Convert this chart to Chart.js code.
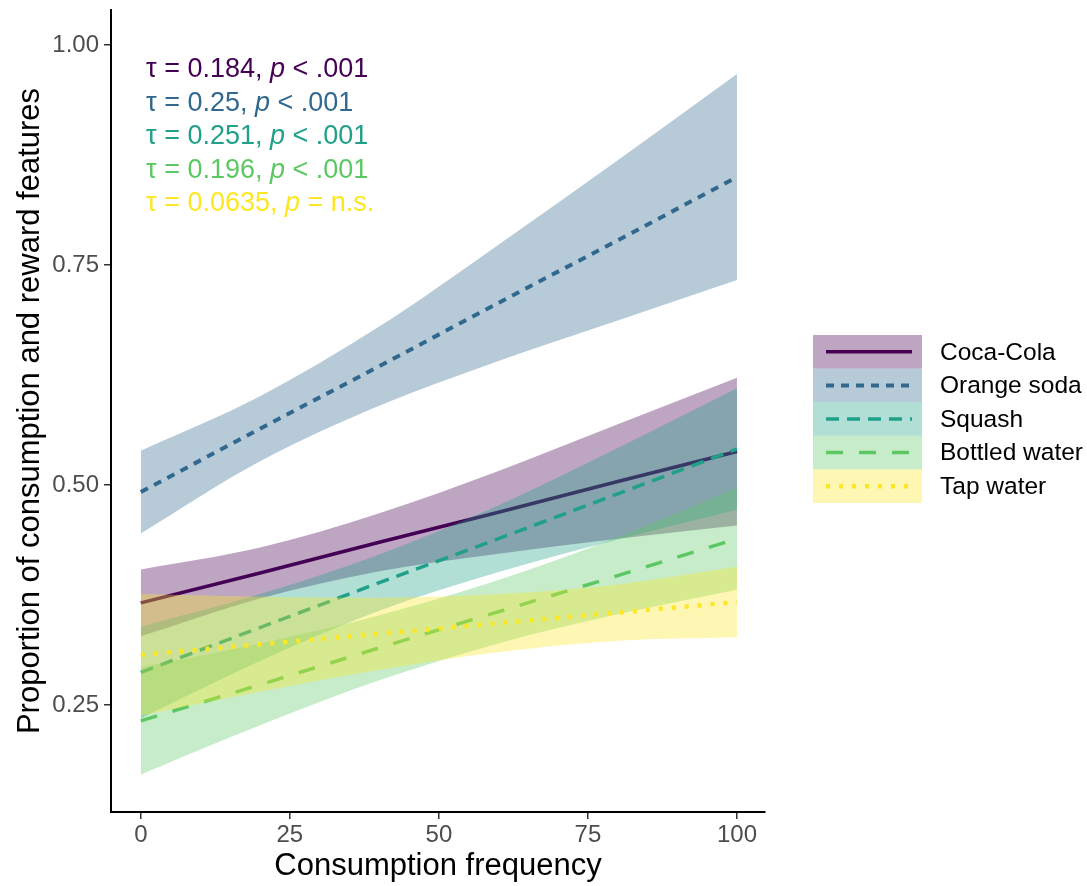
<!DOCTYPE html>
<html>
<head>
<meta charset="utf-8">
<script src="https://cdn.jsdelivr.net/npm/chart.js@4"></script>
<style>
  html, body { margin: 0; background: #fff; }
  #wrap { width: 1087px; height: 886px; }
</style>
</head>
<body>
<div id="wrap"><canvas id="chart"></canvas></div>
<script>
// Data
const xValues = [0, 20, 40, 60, 80, 100];
const seriesNames = ["Coca-Cola", "Orange soda", "Squash", "Bottled water", "Tap water"];

const cocaFit   = [0.366, 0.400, 0.435, 0.469, 0.504, 0.538];
const cocaLower = [0.328, 0.371, 0.402, 0.422, 0.439, 0.454];
const cocaUpper = [0.404, 0.429, 0.468, 0.516, 0.569, 0.622];

const orangeFit   = [0.492, 0.564, 0.635, 0.707, 0.778, 0.850];
const orangeLower = [0.445, 0.527, 0.590, 0.641, 0.687, 0.733];
const orangeUpper = [0.539, 0.601, 0.680, 0.773, 0.869, 0.967];

const squashFit   = [0.287, 0.338, 0.389, 0.439, 0.490, 0.541];
const squashLower = [0.235, 0.300, 0.357, 0.401, 0.438, 0.472];
const squashUpper = [0.339, 0.376, 0.421, 0.477, 0.542, 0.610];

const bottledFit   = [0.232, 0.273, 0.315, 0.356, 0.397, 0.439];
const bottledLower = [0.171, 0.227, 0.278, 0.320, 0.353, 0.381];
const bottledUpper = [0.293, 0.320, 0.352, 0.392, 0.441, 0.497];

const tapFit   = [0.307, 0.319, 0.331, 0.343, 0.355, 0.367];
const tapLower = [0.238, 0.265, 0.290, 0.310, 0.323, 0.327];
const tapUpper = [0.376, 0.373, 0.372, 0.376, 0.387, 0.407];

const tauValues = ["0.184", "0.25", "0.251", "0.196", "0.0635"];
const pValues = ["< .001", "< .001", "< .001", "< .001", "= n.s."];

const xTicks = [0, 25, 50, 75, 100];
const yTicks = [0.25, 0.50, 0.75, 1.00];

// styles
const lineColors = ["#440154", "#31688E", "#1FA088", "#5DC863", "#FDE725"];
const fillAlpha = 0.35;
const dashes = [[], [8, 7], [13, 8], [17, 16], [4, 9]];
const widths = [3.5, 4, 3.5, 3.5, 4.5];
const FONT = "'Liberation Sans', Arial, Helvetica, sans-serif";

const fits = [cocaFit, orangeFit, squashFit, bottledFit, tapFit];
const lowers = [cocaLower, orangeLower, squashLower, bottledLower, tapLower];
const uppers = [cocaUpper, orangeUpper, squashUpper, bottledUpper, tapUpper];

function rgba(hex, a) {
  const n = parseInt(hex.slice(1), 16);
  return `rgba(${(n >> 16) & 255}, ${(n >> 8) & 255}, ${n & 255}, ${a})`;
}
const pts = arr => arr.map((v, i) => ({ x: xValues[i], y: v }));

// ggplot draws ribbon + line per group in order, so first group ends at bottom
const datasets = [];
seriesNames.forEach((name, i) => {
  const base = 50 - i * 3;
  datasets.push({
    label: name + " upper",
    data: pts(uppers[i]),
    borderWidth: 0,
    pointRadius: 0,
    cubicInterpolationMode: "monotone",
    backgroundColor: rgba(lineColors[i], fillAlpha),
    fill: "+1",
    order: base
  });
  datasets.push({
    label: name + " lower",
    data: pts(lowers[i]),
    borderWidth: 0,
    pointRadius: 0,
    cubicInterpolationMode: "monotone",
    fill: false,
    order: base - 1
  });
  datasets.push({
    label: name,
    data: pts(fits[i]),
    borderColor: lineColors[i],
    borderWidth: widths[i],
    borderDash: dashes[i],
    borderCapStyle: "butt",
    pointRadius: 0,
    tension: 0,
    fill: false,
    order: base - 2
  });
});

const annotationsPlugin = {
  id: "annotations",
  afterDraw(chart) {
    const ctx = chart.ctx;
    ctx.save();
    ctx.textBaseline = "alphabetic";
    ctx.textAlign = "left";
    // tau / p text
    tauValues.forEach((tau, i) => {
      let x = 146;
      const y = 77 + i * 33.5;
      ctx.fillStyle = lineColors[i];
      const parts = [
        ["normal", "\u03C4 = " + tau + ", "],
        ["italic", "p"],
        ["normal", " " + pValues[i]]
      ];
      parts.forEach(([style, txt]) => {
        ctx.font = `${style} 27px ${FONT}`;
        ctx.fillText(txt, x, y);
        x += ctx.measureText(txt).width;
      });
    });
    // legend
    const keyX = 813, keyW = 109, keyH = 33.6, top0 = 335;
    seriesNames.forEach((name, i) => {
      const top = top0 + i * keyH;
      ctx.fillStyle = rgba(lineColors[i], fillAlpha);
      ctx.fillRect(keyX, top, keyW, keyH);
      const cy = top + keyH / 2;
      ctx.strokeStyle = lineColors[i];
      ctx.lineWidth = widths[i];
      ctx.lineCap = "butt";
      ctx.setLineDash(dashes[i]);
      ctx.beginPath();
      ctx.moveTo(826, cy);
      ctx.lineTo(912, cy);
      ctx.stroke();
      ctx.setLineDash([]);
      ctx.fillStyle = "#000";
      ctx.font = `24.5px ${FONT}`;
      ctx.textBaseline = "middle";
      ctx.fillText(name, 940, cy + 1);
      ctx.textBaseline = "alphabetic";
    });
    ctx.restore();
  }
};

new Chart(document.getElementById("chart"), {
  type: "line",
  data: { datasets },
  options: {
    responsive: true,
    maintainAspectRatio: false,
    animation: false,
    layout: { padding: { left: 0, right: 322, top: 10, bottom: 0 } },
    plugins: {
      legend: { display: false },
      tooltip: { enabled: false },
      filler: { propagate: false }
    },
    scales: {
      x: {
        type: "linear",
        min: -5,
        max: 104.7,
        afterBuildTicks: s => { s.ticks = xTicks.map(v => ({ value: v })); },
        afterFit: s => { s.height = 74; s.paddingLeft = 0; s.paddingRight = 0; },
        grid: { drawOnChartArea: false, drawTicks: true, tickLength: 7, color: "#333", lineWidth: 1.5 },
        border: { display: true, color: "#000", width: 2 },
        ticks: { color: "#4D4D4D", font: { size: 24, family: FONT }, padding: 2, callback: v => String(v) },
        title: { display: true, text: "Consumption frequency", color: "#000", font: { size: 31, family: FONT }, padding: { top: 0, bottom: 1 } }
      },
      y: {
        type: "linear",
        min: 0.1284,
        max: 1.0398,
        afterBuildTicks: s => { s.ticks = yTicks.map(v => ({ value: v })); },
        afterFit: s => { s.width = 111; s.paddingTop = 0; s.paddingBottom = 0; },
        grid: { drawOnChartArea: false, drawTicks: true, tickLength: 7, color: "#333", lineWidth: 1.5 },
        border: { display: true, color: "#000", width: 2 },
        ticks: { color: "#4D4D4D", font: { size: 24, family: FONT }, padding: 5, callback: v => v.toFixed(2) },
        title: { display: true, text: "Proportion of consumption and reward features", color: "#000", font: { size: 31, family: FONT }, padding: { top: 12, bottom: 0 } }
      }
    }
  },
  plugins: [annotationsPlugin]
});
</script>
</body>
</html>
